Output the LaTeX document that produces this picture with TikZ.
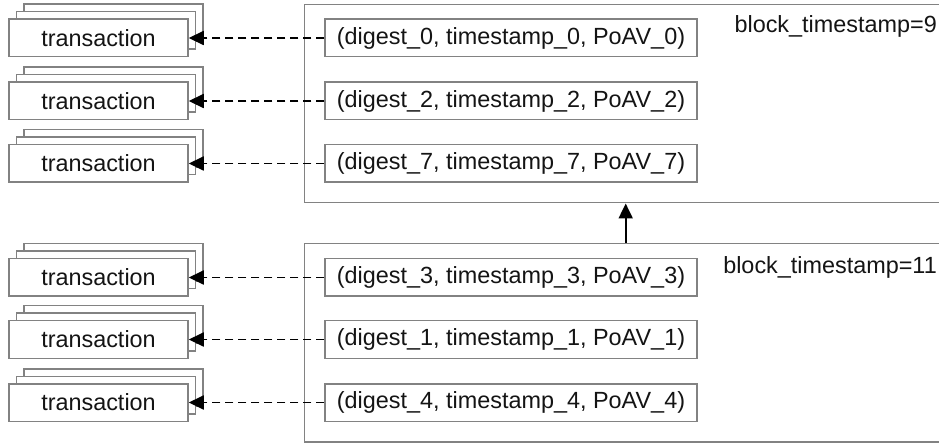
\documentclass[tikz,border=0pt]{standalone}
\usepackage{fontspec}
\setmainfont{Liberation Sans}
\usetikzlibrary{arrows.meta,shadows}
\definecolor{boxgray}{RGB}{130,130,130}
\definecolor{inkblack}{RGB}{20,20,20}
\begin{document}
\begin{tikzpicture}[x=1pt,y=-1pt,
  every node/.style={font=\fontsize{23.4}{27}\selectfont, text=inkblack, inner sep=0pt},
  txbox/.style={draw=boxgray, line width=1.5pt, fill=white,
    minimum width=179pt, minimum height=37.5pt,
    general shadow={shadow xshift=15pt, shadow yshift=15pt, draw=boxgray, fill=white, line width=1.5pt},
    general shadow={shadow xshift=7.5pt, shadow yshift=7.5pt, draw=boxgray, fill=white, line width=1.5pt}},
  entrybox/.style={draw=boxgray, line width=1.5pt, fill=white,
    minimum width=372pt, minimum height=37.5pt},
  blockbox/.style={draw=boxgray, line width=1.5pt, anchor=north west,
    minimum width=700pt, minimum height=198pt},
  reflink/.style={draw=black, line width=1.8pt, dash pattern=on 8pt off 5pt,
    -{Triangle[length=15pt,width=14pt]}},
  chainlink/.style={draw=black, line width=2pt, -{Triangle[length=15pt,width=14pt]}}
]
\useasboundingbox (0,0) rectangle (939,443);
\clip (0,0) rectangle (939,443);

% the two blocks
\node[blockbox] (blk9) at (303.5,4) {};
\node[blockbox] (blk11) at (303.5,243) {};
\node[anchor=base east] (lbl9) at (937,33) {block\_timestamp=9};
\node[anchor=base east] (lbl11) at (937,274) {block\_timestamp=11};

% entries of block 9
\node[entrybox] (d0) at (511,38) {(digest\_0, timestamp\_0, PoAV\_0)};
\node[entrybox] (d2) at (511,101) {(digest\_2, timestamp\_2, PoAV\_2)};
\node[entrybox] (d7) at (511,163.5) {(digest\_7, timestamp\_7, PoAV\_7)};

% entries of block 11
\node[entrybox] (d3) at (511,277.5) {(digest\_3, timestamp\_3, PoAV\_3)};
\node[entrybox] (d1) at (511,339.5) {(digest\_1, timestamp\_1, PoAV\_1)};
\node[entrybox] (d4) at (511,402.5) {(digest\_4, timestamp\_4, PoAV\_4)};

% transaction stacks
\node[txbox] (t0) at (98.5,38) {transaction};
\node[txbox] (t2) at (98.5,101) {transaction};
\node[txbox] (t7) at (98.5,163.5) {transaction};
\node[txbox] (t3) at (98.5,277.5) {transaction};
\node[txbox] (t1) at (98.5,339.5) {transaction};
\node[txbox] (t4) at (98.5,402.5) {transaction};

% references from entries to transactions
\foreach \e/\t in {d0/t0, d2/t2, d7/t7, d3/t3, d1/t1, d4/t4}
  \draw[reflink] (\e.west) -- (\t.east);

% link from block 11 to block 9
\coordinate (up) at (625.7,0);
\draw[chainlink] (blk11.north -| up) -- (blk9.south -| up);
\end{tikzpicture}
\end{document}
